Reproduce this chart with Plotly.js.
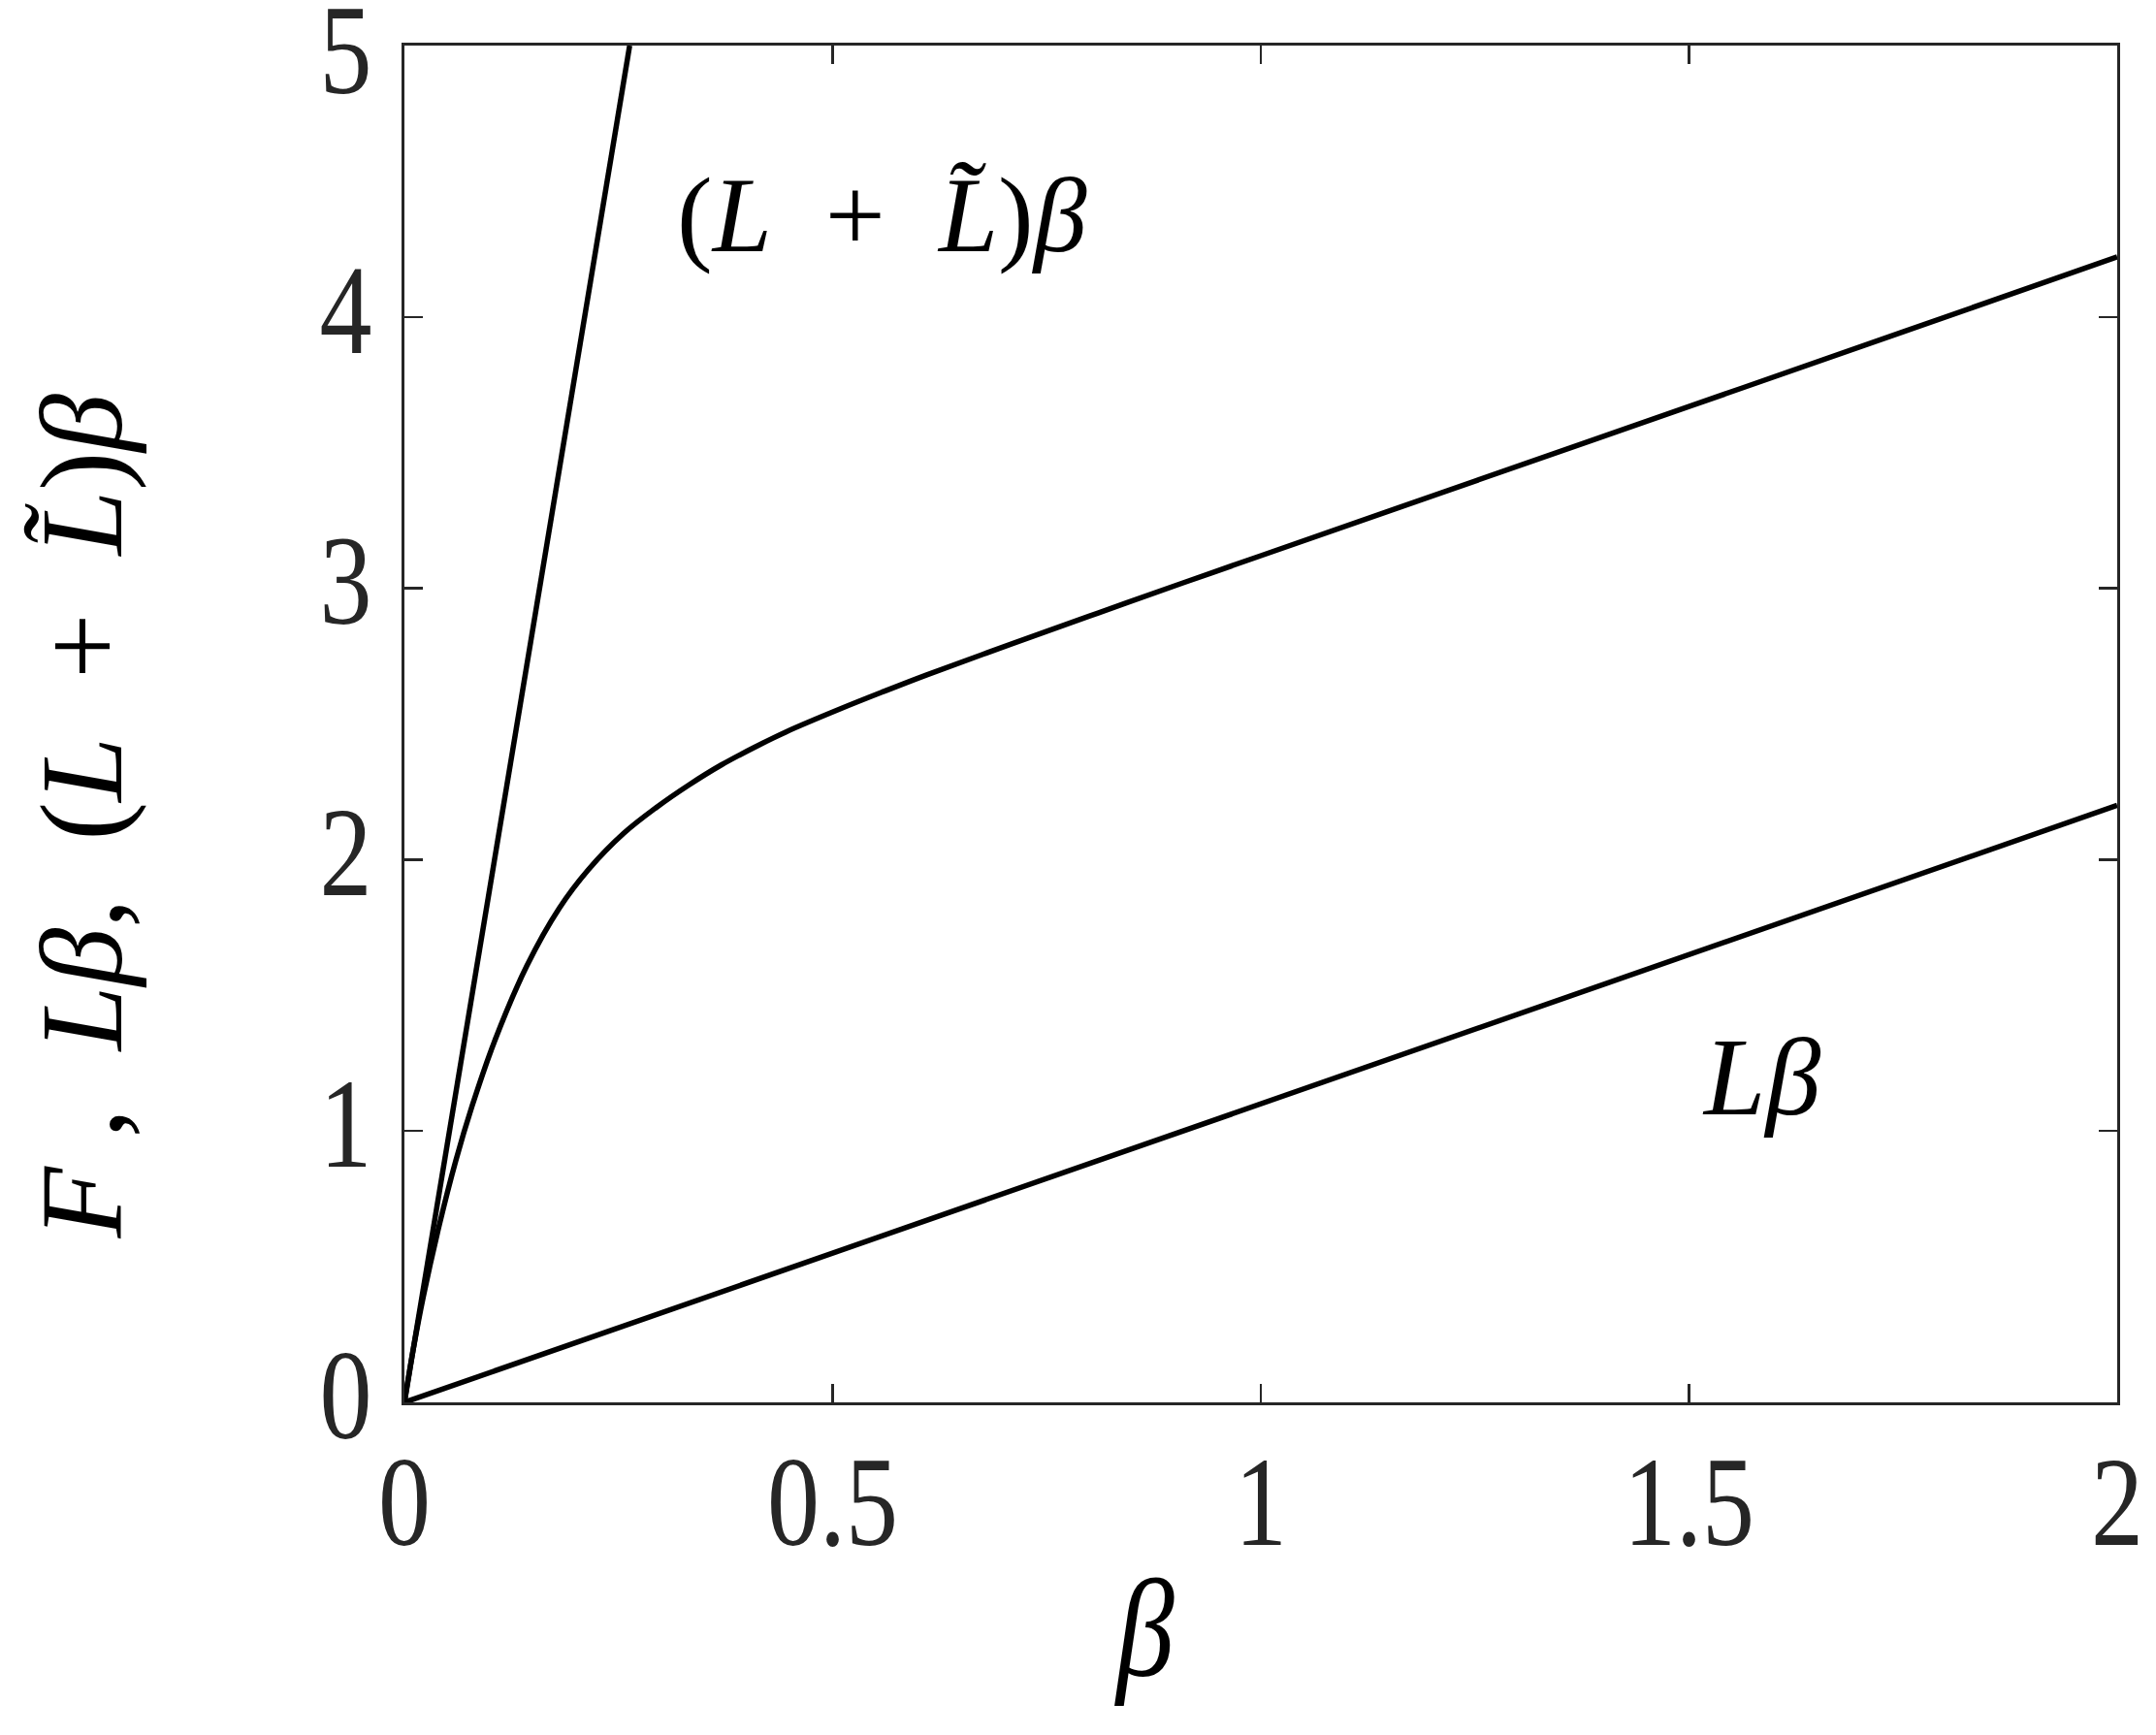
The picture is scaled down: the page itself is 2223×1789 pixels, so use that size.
<!DOCTYPE html>
<html>
<head>
<meta charset="utf-8">
<script src="https://cdn.plot.ly/plotly-3.0.1.min.js"></script>
<style>html,body{margin:0;padding:0;background:#fff;}#chart{width:2223px;height:1789px;}</style>
</head>
<body>
<div id="chart"></div>
<script>
// F(beta) curve
const betaF = [0, 0.01, 0.022, 0.041, 0.06, 0.079, 0.105, 0.143, 0.181, 0.215, 0.256, 0.294, 0.332, 0.37, 0.41, 0.445, 0.51, 0.56, 0.61, 0.71, 0.81, 0.91, 1.0, 1.25, 1.5, 1.75, 2.0];
const valF  = [0, 0.19, 0.389, 0.657, 0.891, 1.092, 1.329, 1.609, 1.822, 1.964, 2.097, 2.192, 2.275, 2.349, 2.416, 2.47, 2.557, 2.62, 2.681, 2.796, 2.909, 3.021, 3.12, 3.395, 3.67, 3.945, 4.221];
// (L + L~) beta line
const betaSum = [0, 0.263];
const valSum  = [0, 5];
// L beta line
const betaL = [0, 2];
const valL  = [0, 2.2];
// ticks
const xTickVals = [0, 0.5, 1, 1.5, 2];
const xTickText = ['0', '0.5', '1', '1.5', '2'];
const yTickVals = [0, 1, 2, 3, 4, 5];
const yTickText = ['0', '1', '2', '3', '4', '5'];

const lineStyle = {color: '#000000', width: 5.5};
const traces = [
  {x: betaSum, y: valSum, mode: 'lines', line: lineStyle, hoverinfo: 'skip'},
  {x: betaF, y: valF, mode: 'lines', line: Object.assign({shape: 'spline', smoothing: 1}, lineStyle), hoverinfo: 'skip'},
  {x: betaL, y: valL, mode: 'lines', line: lineStyle, hoverinfo: 'skip'}
];

const tickFont = {family: 'Liberation Serif', size: 108, color: '#262626'};
const mathFont = {family: 'Liberation Serif', size: 110, color: '#000000'};
const NB = '\u00a0';

const axisCommon = {
  showline: true, linewidth: 3, linecolor: '#262626', mirror: 'ticks',
  ticks: 'inside', ticklen: 19, tickwidth: 2.5, tickcolor: '#262626',
  showgrid: false, zeroline: false, tickfont: tickFont, tickmode: 'array',
  ticklabeloverflow: 'allow'
};

const layout = {
  width: 2223, height: 1789,
  margin: {l: 417, r: 40, t: 47, b: 343},
  paper_bgcolor: '#ffffff', plot_bgcolor: '#ffffff',
  showlegend: false,
  xaxis: Object.assign({}, axisCommon, {range: [0, 2], tickvals: xTickVals, ticktext: xTickText, ticklabelstandoff: 16}),
  yaxis: Object.assign({}, axisCommon, {range: [0, 5], tickvals: yTickVals, ticktext: yTickText, ticklabelstandoff: 9}),
  annotations: [
    {text: '(<i>L</i>' + NB + NB + '+' + NB + NB + '<i>L\u0303</i>)<i>β</i>', xref: 'paper', yref: 'paper', x: 0.279, y: 0.875, showarrow: false, xanchor: 'center', yanchor: 'middle', font: mathFont},
    {text: '<i>Lβ</i>', xref: 'paper', yref: 'paper', x: 0.792, y: 0.240, showarrow: false, xanchor: 'center', yanchor: 'middle', font: Object.assign({}, mathFont, {size: 114})},
    {text: '<i>β</i>', xref: 'paper', yref: 'paper', x: 0.432, y: -0.167, showarrow: false, xanchor: 'center', yanchor: 'middle', font: Object.assign({}, mathFont, {size: 120})},
    {text: '<i>F</i>' + NB + ',' + NB + NB + '<i>Lβ</i>,' + NB + NB + '(<i>L</i>' + NB + NB + '+' + NB + NB + '<i>L\u0303</i>)<i>β</i>', xref: 'paper', yref: 'paper', x: -0.188, y: 0.432, showarrow: false, xanchor: 'center', yanchor: 'middle', textangle: -90, font: Object.assign({}, mathFont, {size: 120})}
  ]
};

function stretch(nodes, s, dyFn) {
  nodes.forEach(function (t, i) {
    const bb = t.getBBox();
    const cx = bb.x + bb.width / 2, cy = bb.y + bb.height / 2;
    const dy = dyFn(t, i);
    const orig = t.getAttribute('transform') || '';
    t.setAttribute('transform', orig + ' translate(0,' + dy + ') translate(' + cx + ',' + cy + ') scale(1,' + s + ') translate(' + (-cx) + ',' + (-cy) + ')');
  });
}

Plotly.newPlot('chart', traces, layout, {displayModeBar: false, staticPlot: true}).then(function () {
  stretch(document.querySelectorAll('.xtick text'), 1.22, function () { return -10; });
  stretch(document.querySelectorAll('.ytick text'), 1.22, function (t) {
    return t.textContent === yTickText[yTickText.length - 1] ? 3 : -9;
  });
  const ann = document.querySelectorAll('.annotation-text');
  if (ann.length > 2) stretch([ann[2]], 1.2, function () { return 0; });
});
</script>
</body>
</html>
